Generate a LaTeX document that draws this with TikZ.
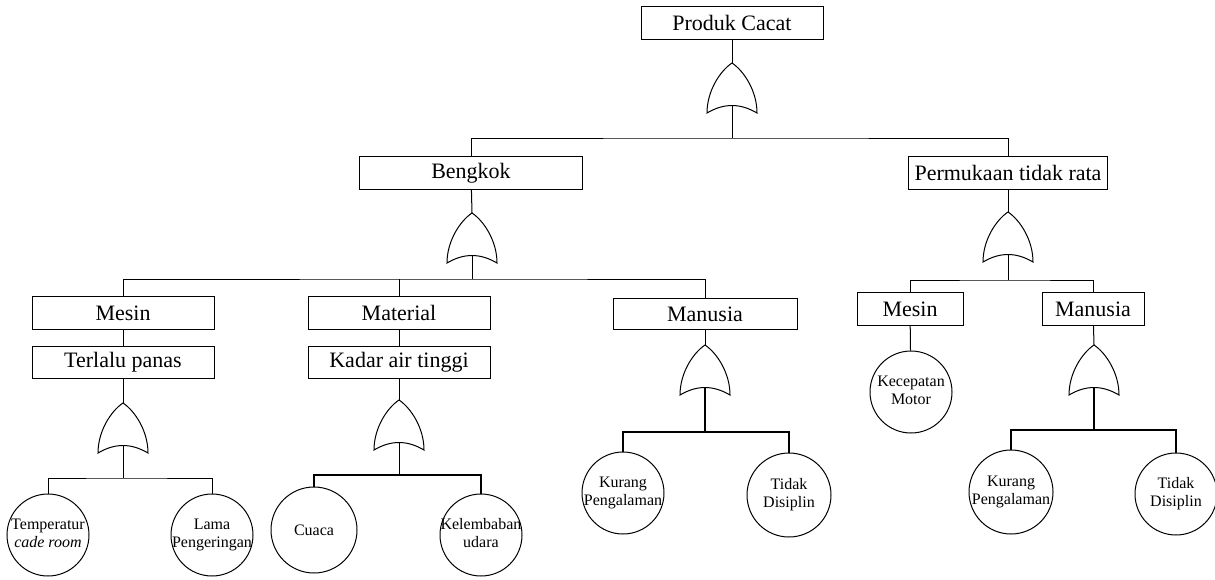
\documentclass[tikz,border=0pt]{standalone}
\usepackage{fontspec}
\setmainfont{Liberation Serif}
\tikzset{
  evt/.style={draw, rectangle, inner sep=0pt, minimum height=33pt,
    font=\fontsize{22}{26}\selectfont},
  basic/.style={draw, circle, inner sep=0pt, minimum size=82pt,
    font=\fontsize{16}{18}\selectfont},
  thk/.style={line width=1.8pt},
  orgate/.pic={
    \draw (0,0) .. controls (-12,8) and (-25,28) .. (-25,50)
      .. controls (-8,40) and (8,40) .. (25,50)
      .. controls (25,28) and (12,8) .. (0,0) -- cycle;
    \coordinate (-in) at (0,0);
    \coordinate (-out) at (0,42.5);
  }
}
\newcommand{\twoline}[2]{\makebox[0pt]{\begin{tabular}{@{}c@{}}#1\\#2\end{tabular}}}
\begin{document}
\begin{tikzpicture}[x=1pt,y=-1pt,line width=1pt]
    \useasboundingbox (0,0) rectangle (1215,579);
    % top event
    \node[evt,minimum width=182pt] (produk) at (732,23) {Produk Cacat};
    \pic (g0) at (732,63) {orgate};
    \coordinate (b0) at (732,138);
    \node[evt,minimum width=223pt] (bengkok) at (471,173) {Bengkok};
    \node[evt,minimum width=199pt] (permukaan) at (1008,173) {Permukaan tidak rata};
    \draw (produk) -- (g0-in); \draw (g0-out) -- (b0);
    \draw (bengkok.north) |- (b0) -| (permukaan.north);
    % Bengkok
    \pic (g1) at (472,213) {orgate};
    \coordinate (b1) at (472,279);
    \node[evt,minimum width=182pt] (mesinA) at (123,313) {Mesin};
    \node[evt,minimum width=182pt] (material) at (399,313) {Material};
    \node[evt,minimum width=184pt,minimum height=31pt] (manusiaA) at (705,314) {Manusia};
    \draw (bengkok) -- (g1-in); \draw (g1-out) -- (b1);
    \draw (mesinA.north) |- (b1) -| (manusiaA.north);
    \draw (material.north) -- (material.north |- b1);
    \node[evt,minimum width=182pt,minimum height=32pt] (terlalu) at (123,362) {Terlalu panas};
    \node[evt,minimum width=182pt,minimum height=32pt] (kadar) at (399,362) {Kadar air tinggi};
    \draw (mesinA) -- (terlalu); \draw (material) -- (kadar);
    % Terlalu panas
    \pic (g3) at (123,403) {orgate};
    \coordinate (b3) at (123,478);
    \node[basic] (temperatur) at (48,535) {\twoline{Temperatur}{\textit{cade room}}};
    \node[basic] (lama) at (212,535) {\twoline{Lama}{Pengeringan}};
    \draw (terlalu) -- (g3-in); \draw (g3-out) -- (b3);
    \draw (temperatur.north) |- (b3) -| (lama.north);
    % Kadar air tinggi
    \pic (g4) at (399,400) {orgate};
    \coordinate (b4) at (399,475);
    \node[basic,minimum size=86pt] (cuaca) at (314,530) {Cuaca};
    \node[basic] (kelembaban) at (481,535) {\twoline{Kelembaban}{udara}};
    \draw (kadar) -- (g4-in); \draw (g4-out) -- (b4);
    \draw[thk] (cuaca.north) |- (b4) -| (kelembaban.north);
    % Manusia (Bengkok)
    \pic (g5) at (705,345) {orgate};
    \coordinate (b5) at (705,432);
    \node[basic] (kurangA) at (623,493) {\twoline{Kurang}{Pengalaman}};
    \node[basic,minimum size=84pt] (tidakA) at (789,495) {\twoline{Tidak}{Disiplin}};
    \draw (manusiaA) -- (g5-in); \draw[thk] (g5-out) -- (b5);
    \draw[thk] (kurangA.north) |- (b5) -| (tidakA.north);
    % Permukaan tidak rata
    \pic (g2) at (1008,212) {orgate};
    \coordinate (b2) at (1008,280);
    \node[evt,minimum width=106pt] (mesinB) at (910,309) {Mesin};
    \node[evt,minimum width=102pt] (manusiaB) at (1093,309) {Manusia};
    \draw (permukaan) -- (g2-in); \draw (g2-out) -- (b2);
    \draw (mesinB.north) |- (b2) -| (manusiaB.north);
    \node[basic] (kecepatan) at (911,392) {\twoline{Kecepatan}{Motor}};
    \draw (mesinB) -- (kecepatan);
    % Manusia (Permukaan)
    \pic (g6) at (1094,345) {orgate};
    \coordinate (b6) at (1094,430);
    \node[basic,minimum size=84pt] (kurangB) at (1011,492) {\twoline{Kurang}{Pengalaman}};
    \node[basic] (tidakB) at (1176,494) {\twoline{Tidak}{Disiplin}};
    \draw (manusiaB) -- (g6-in); \draw[thk] (g6-out) -- (b6);
    \draw[thk] (kurangB.north) |- (b6) -| (tidakB.north);
\end{tikzpicture}
\end{document}
